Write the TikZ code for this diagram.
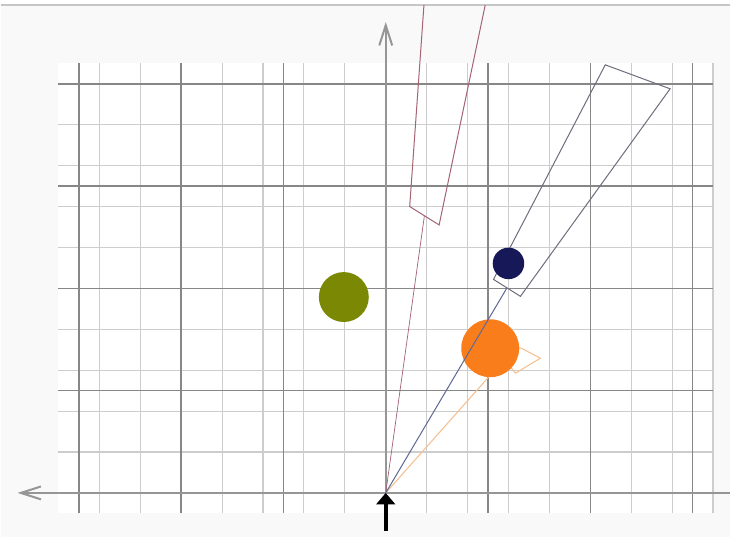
\documentclass[tikz,border=0pt]{standalone}
\usepackage{tikz}
\usetikzlibrary{arrows.meta,positioning,calc}
\definecolor{axisgray}{RGB}{150,150,150}
\definecolor{minorgray}{RGB}{205,205,205}
\definecolor{majorgray}{RGB}{135,135,135}
\definecolor{paper}{RGB}{249,249,249}
\definecolor{beamred}{RGB}{165,100,115}
\definecolor{beamblue}{RGB}{95,105,150}
\definecolor{beamgray}{RGB}{110,110,125}
\definecolor{beamorange}{RGB}{245,190,140}
\definecolor{olivegreen}{RGB}{122,136,4}
\definecolor{darknavy}{RGB}{22,24,88}
\definecolor{sunorange}{RGB}{250,125,28}

\begin{document}
\begin{tikzpicture}[
    x=0.5cm, y=0.5cm,
    minorln/.style={draw=minorgray, line width=0.8pt},
    majorln/.style={draw=majorgray, line width=1pt},
    axisln/.style={draw=axisgray, line width=1.4pt, -{Straight Barb[length=14pt,width=9pt]}},
    beam/.style={line width=0.7pt},
    ball/.style={circle, inner sep=0pt, draw=none}
  ]
    % page and top rule
    \fill[white] (-18.83,-2.146) rectangle (16.83,24.098);
    \fill[paper] (-18.83,-2.146) rectangle (16.83,23.85);
    \draw[gray!45, line width=0.8pt] (-18.83,23.85) -- (16.83,23.85);

    % grid, minor lines every cell, major every 5
    \fill[white] (-16,-1) rectangle (16,21);
    \draw[minorln] (-16,-1) grid (16,21);
    \foreach \x in {-15,-10,...,15} \draw[majorln] (\x,-1) -- (\x,21);
    \foreach \y in {5,10,...,20} \draw[majorln] (-16,\y) -- (16,\y);

    % axes
    \coordinate (origin) at (0,0);
    \coordinate (xend) at (16.83,0);
    \coordinate (xtip) at (-18.0,0);
    \coordinate (ytip) at (0,23.02);
    \draw[axisln] (xend) -- (xtip);
    \draw[axisln] (origin) -- (ytip);

    % red beam (cut by the top rule)
    \coordinate (redFL) at (1.868,23.85);
    \coordinate (redNL) at (1.171,14.0);
    \coordinate (redNR) at (2.61,13.10);
    \coordinate (redFR) at (4.863,23.85);
    \draw[beam, beamred] (redFL) -- (redNL) -- (redNR) -- (redFR);
    \draw[beam, beamred, line width=0.5pt] (origin) -- ($(redNL)!0.5!(redNR)$);

    % blue beam
    \coordinate (blueNL) at (5.268,10.439);
    \coordinate (blueNR) at (6.585,9.610);
    \coordinate (blueFR) at (13.902,19.756);
    \coordinate (blueFL) at (10.732,20.927);
    \draw[beam, beamgray] (blueNL) -- (blueNR) -- (blueFR) -- (blueFL) -- cycle;

    % orange beam
    \coordinate (orNA) at (5.268,7.22);
    \coordinate (orFA) at (6.634,7.073);
    \coordinate (orFB) at (7.561,6.585);
    \coordinate (orNB) at (6.341,5.854);
    \draw[beam, beamorange] (orNA) -- (orFA) -- (orFB) -- (orNB) -- cycle;
    \draw[beam, beamorange] (origin) -- ($(orNA)!0.5!(orNB)$);

    % balls
    \node[ball, fill=olivegreen, minimum size=1.22cm] (greenball) at (-2.049,9.576) {};
    \node[ball, fill=sunorange, minimum size=1.415cm] (orangeball) at (5.107,7.073) {};
    \draw[beam, beamblue] (origin) -- ($(blueNL)!0.5!(blueNR)$);
    \node[ball, fill=darknavy, minimum size=0.77cm] (navyball) at (6.0,11.22) {};

    % push arrow
    \coordinate (pushstart) at (0,-1.854);
    \draw[black, line width=3pt, -{Triangle[length=8pt,width=13pt]}] (pushstart) -- (origin);
\end{tikzpicture}
\end{document}
